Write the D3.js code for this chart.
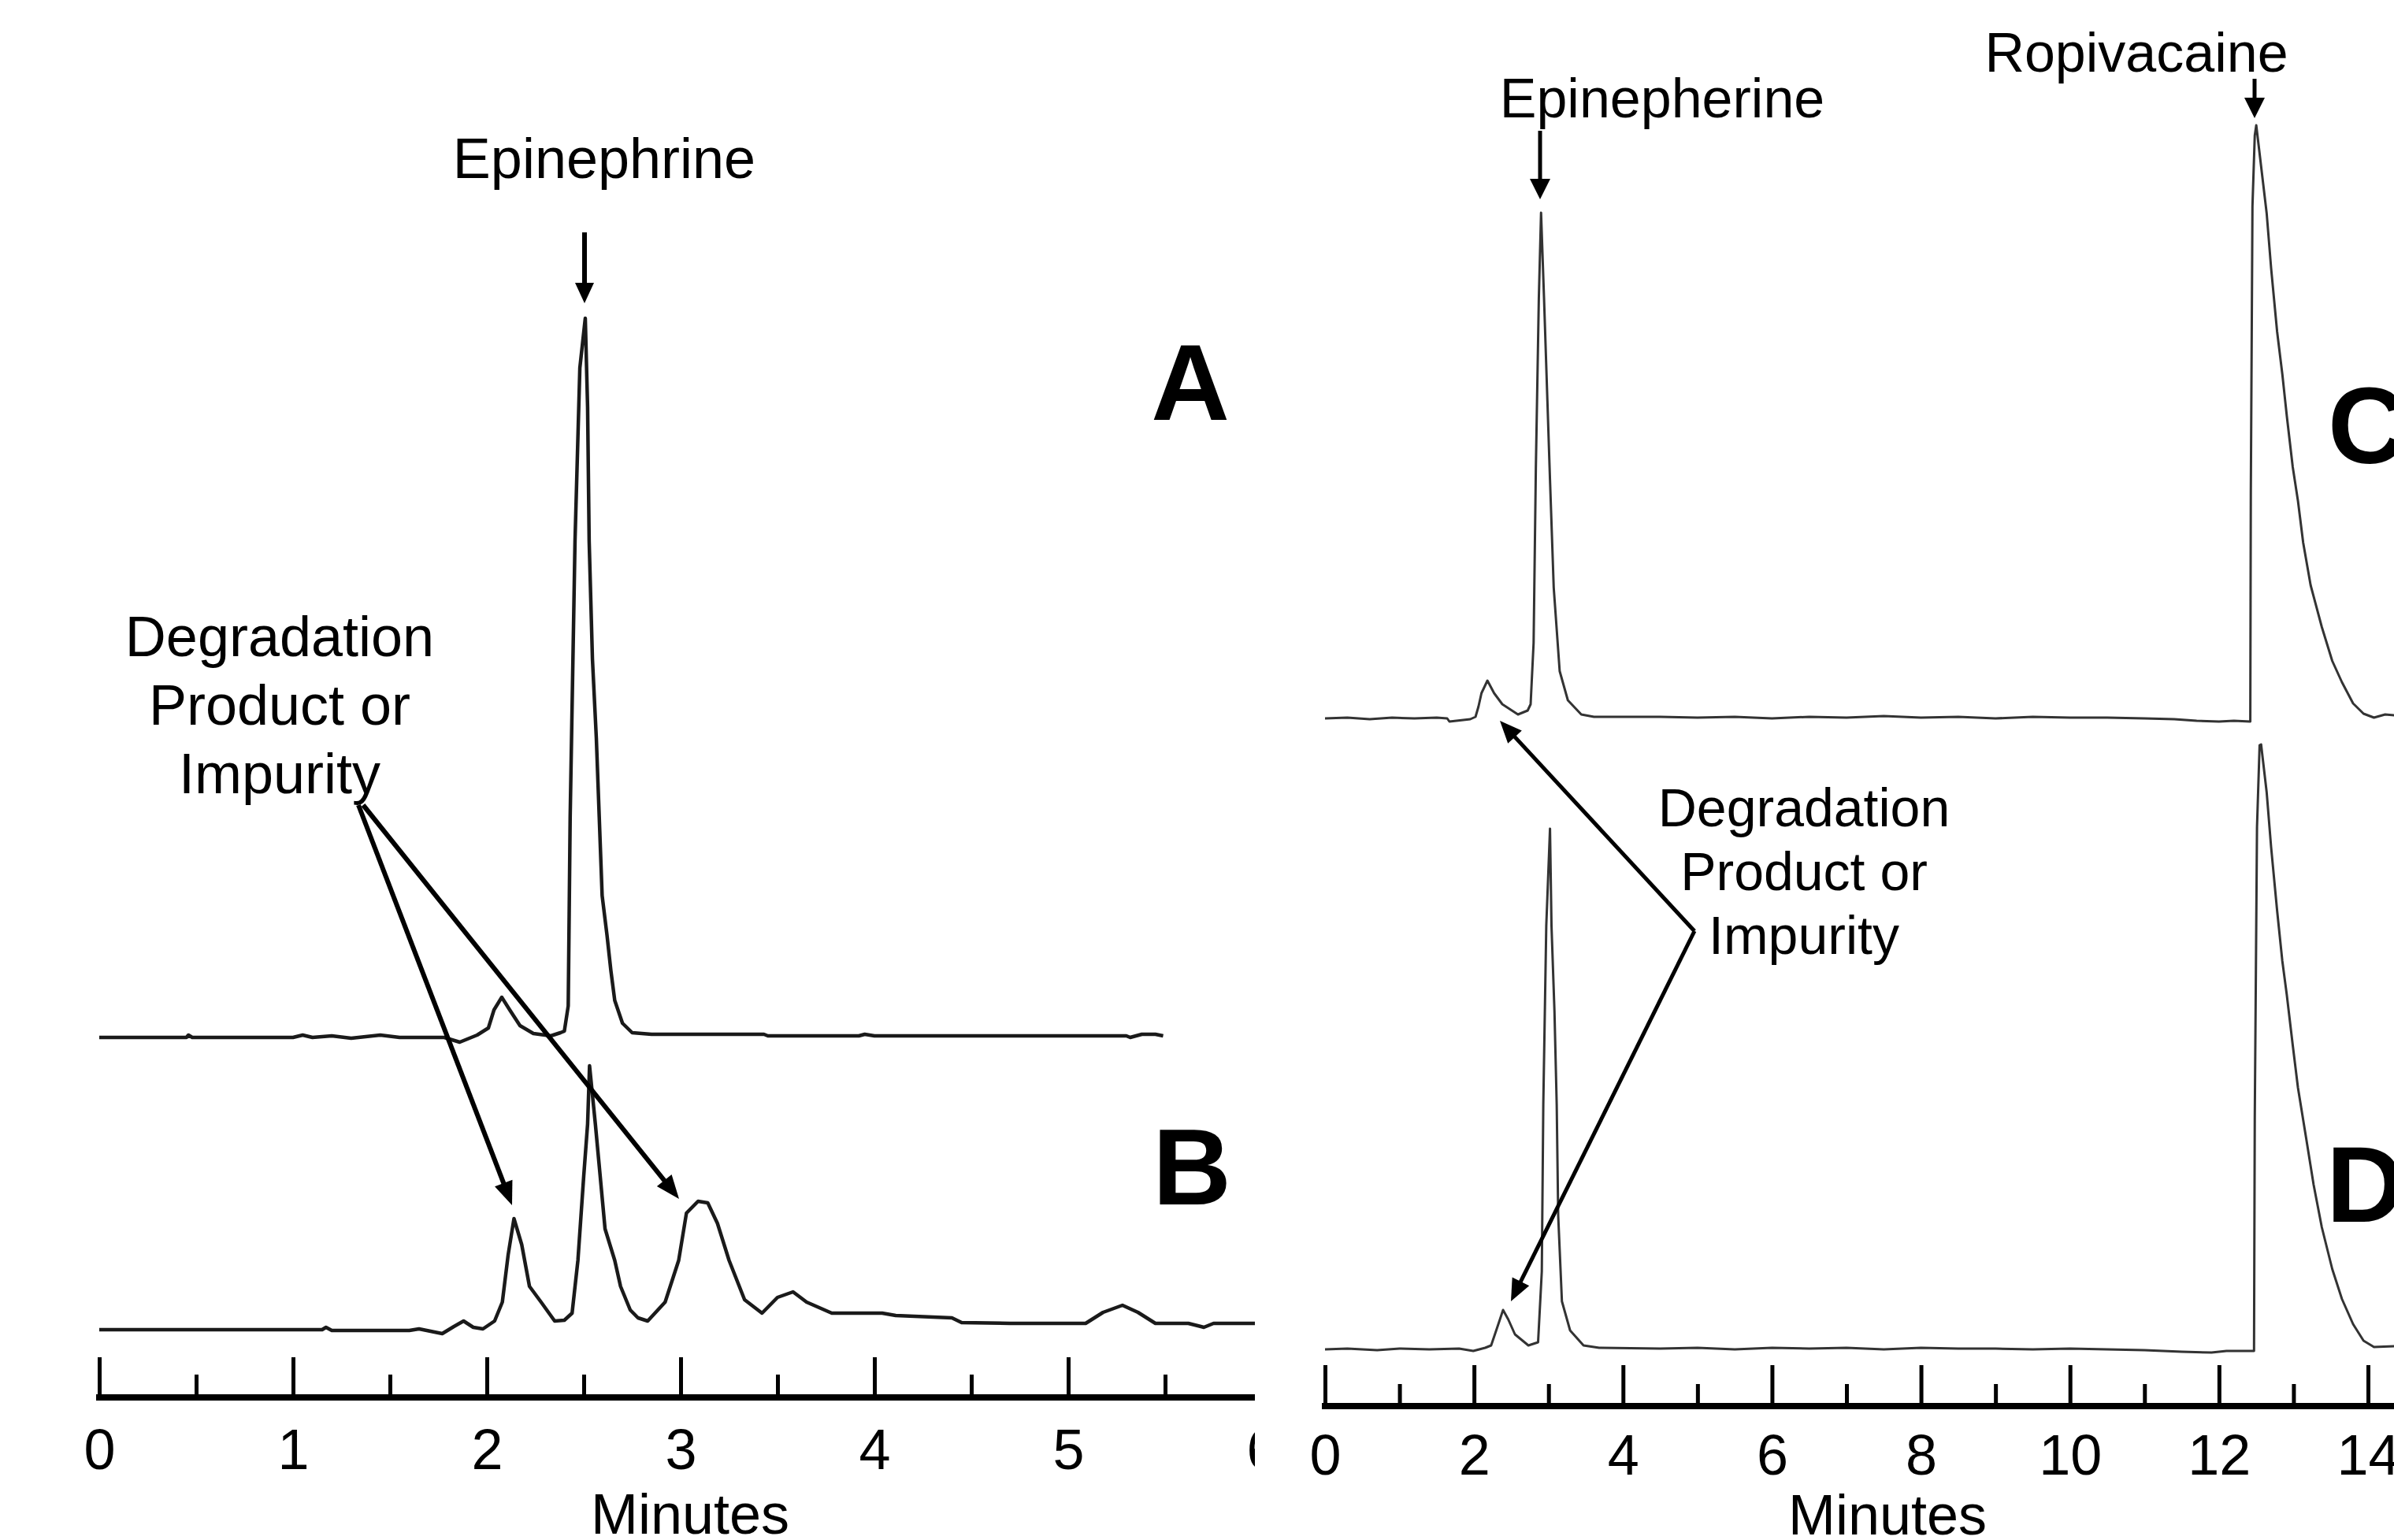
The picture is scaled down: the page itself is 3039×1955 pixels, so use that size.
<!DOCTYPE html>
<html>
<head>
<meta charset="utf-8">
<script src="https://cdn.jsdelivr.net/npm/d3@7"></script>
<style>
body { margin: 0; background: #fff; }
text { font-family: "Liberation Sans", Arial, Helvetica, sans-serif; fill: #000; }
</style>
</head>
<body>
<script>
var svgWidth = 3039;
var svgHeight = 1955;

// chromatograms: [retention time (min), detector response]
var traceA = [[0,0],[0.45,0],[0.46,0.3],[0.48,0],[1.0,0],[1.05,0.3],[1.1,0],[1.2,0.2],[1.3,-0.1],[1.45,0.3],[1.55,0],
  [1.78,0],[1.86,-0.6],[1.95,0.3],[2.008,1.2],[2.037,3.5],[2.077,5.1],[2.118,3.5],[2.171,1.5],[2.24,0.5],[2.33,0.2],
  [2.38,0.6],[2.40,0.8],[2.42,4],[2.43,28],[2.455,63],[2.48,85],[2.508,91.3],[2.52,80],[2.528,63],[2.545,48],
  [2.565,38],[2.58,28],[2.595,18],[2.62,13],[2.64,8.5],[2.66,4.7],[2.70,1.8],[2.75,0.6],[2.85,0.4],[3.43,0.4],
  [3.45,0.2],[3.92,0.2],[3.95,0.4],[4.0,0.2],[5.3,0.2],[5.32,0],[5.38,0.4],[5.45,0.4],[5.49,0.2]];

var traceB = [[0,0],[1.15,0],[1.17,0.3],[1.2,-0.1],[1.6,-0.1],[1.65,0.1],[1.77,-0.5],[1.83,0.4],[1.88,1.1],[1.93,0.3],
  [1.98,0.1],[2.04,1.1],[2.08,3.5],[2.11,9.5],[2.14,14.1],[2.18,10.8],[2.22,5.5],[2.28,3.5],[2.35,1.1],[2.40,1.2],
  [2.44,2.1],[2.47,8.8],[2.50,19.5],[2.52,26.1],[2.53,33.5],[2.56,26.1],[2.58,20.8],[2.61,12.8],[2.66,8.8],[2.69,5.5],
  [2.74,2.5],[2.78,1.5],[2.83,1.1],[2.92,3.5],[2.99,8.8],[3.03,14.8],[3.09,16.3],[3.14,16.1],[3.19,13.5],[3.25,8.8],
  [3.33,3.8],[3.42,2.1],[3.50,4.1],[3.58,4.8],[3.65,3.5],[3.78,2.1],[4.04,2.1],[4.11,1.8],[4.40,1.5],[4.45,0.9],
  [4.70,0.8],[5.09,0.8],[5.18,2.2],[5.28,3.1],[5.36,2.2],[5.45,0.8],[5.62,0.8],[5.70,0.3],[5.75,0.8],[6.0,0.8]];

var traceC = [[0,0],[0.3,0.1],[0.6,-0.1],[0.9,0.1],[1.2,0],[1.5,0.1],[1.64,0],[1.67,-0.4],[1.95,-0.1],[2.02,0.2],
  [2.06,1.5],[2.10,3.2],[2.18,4.8],[2.27,3.2],[2.38,1.8],[2.59,0.5],[2.72,1.0],[2.76,1.8],[2.80,9.6],[2.83,31.7],
  [2.87,53.3],[2.90,64.2],[2.94,53.3],[2.98,41.8],[3.02,30.3],[3.07,16.6],[3.15,6.0],[3.26,2.3],[3.44,0.5],[3.61,0.2],
  [4.5,0.2],[5.0,0.1],[5.5,0.2],[6.0,0],[6.5,0.2],[7.0,0.1],[7.5,0.3],[8.0,0.1],[8.5,0.2],[9.0,0],[9.5,0.2],[10.0,0.1],
  [10.5,0.1],[11.0,0],[11.4,-0.1],[11.7,-0.3],[12.0,-0.4],[12.2,-0.3],[12.42,-0.4],[12.427,28.7],[12.449,65],
  [12.48,74],[12.50,75.3],[12.56,70.5],[12.64,64.1],[12.70,57.1],[12.78,49.1],[12.85,43.7],[12.91,38.4],[12.99,31.9],
  [13.06,27.6],[13.13,22.3],[13.23,16.9],[13.38,11.6],[13.52,7.3],[13.65,4.6],[13.80,1.9],[13.94,0.6],[14.08,0.1],
  [14.23,0.5],[14.35,0.4]];

var traceD = [[0,0],[0.3,0.1],[0.7,-0.1],[1.0,0.1],[1.4,0],[1.8,0.1],[1.99,-0.2],[2.15,0.2],[2.23,0.5],[2.33,3.3],
  [2.39,5.0],[2.46,3.8],[2.55,1.9],[2.73,0.5],[2.86,0.9],[2.91,9.9],[2.93,31.1],[2.97,53.8],[3.02,66.1],[3.04,53.8],
  [3.08,42.9],[3.11,31.1],[3.13,17.0],[3.18,6.1],[3.29,2.4],[3.47,0.5],[3.68,0.2],[4.5,0.1],[5.0,0.2],[5.5,0],[6.0,0.2],
  [6.5,0.1],[7.0,0.2],[7.5,0],[8.0,0.2],[8.5,0.1],[9.0,0.1],[9.5,0],[10.0,0.1],[10.5,0],[11.0,-0.1],[11.5,-0.3],
  [11.9,-0.4],[12.1,-0.2],[12.47,-0.2],[12.48,29.3],[12.51,66.3],[12.545,76.7],[12.565,76.8],[12.64,70.7],[12.70,63.7],
  [12.78,55.7],[12.85,49.3],[12.91,45.0],[12.99,38.6],[13.06,33.2],[13.17,26.8],[13.27,20.9],[13.38,15.5],[13.52,10.2],
  [13.65,6.4],[13.80,3.2],[13.94,1.1],[14.08,0.3],[14.35,0.4]];

var leftTicks = [0, 1, 2, 3, 4, 5, 6];
var leftMinorTicks = [0.5, 1.5, 2.5, 3.5, 4.5, 5.5];
var rightTicks = [0, 2, 4, 6, 8, 10, 12, 14];
var rightMinorTicks = [1, 3, 5, 7, 9, 11, 13];

var svg = d3.select('body').append('svg')
  .attr('width', svgWidth)
  .attr('height', svgHeight);

svg.append('defs').append('clipPath').attr('id', 'leftClip')
  .append('rect').attr('x', 0).attr('y', 0).attr('width', 1593).attr('height', svgHeight);

// scales
var xLeft = d3.scaleLinear().domain([0, 6]).range([126, 1602]);
var xRight = d3.scaleLinear().domain([0, 14]).range([1682, 3006]);
var yResp = d3.scaleLinear().domain([0, 100]).range([0, -1000]);

var leftGroup = svg.append('g').attr('clip-path', 'url(#leftClip)');
var rightGroup = svg.append('g');

function drawTrace(group, x, data, baseY, width, color) {
  var line = d3.line()
    .x(function(d) { return x(d[0]); })
    .y(function(d) { return yResp(d[1]); });
  group.append('g')
    .attr('transform', 'translate(0,' + baseY + ')')
    .append('path')
    .datum(data)
    .attr('d', line)
    .attr('fill', 'none')
    .attr('stroke', color)
    .attr('stroke-width', width)
    .attr('stroke-linejoin', 'round');
}

drawTrace(leftGroup, xLeft, traceA, 1317, 4.5, '#1a1a1a');
drawTrace(leftGroup, xLeft, traceB, 1688, 4.5, '#1a1a1a');
drawTrace(rightGroup, xRight, traceC, 912, 3, '#333');
drawTrace(rightGroup, xRight, traceD, 1713, 3, '#333');

// axes, ticks pointing up
function drawAxis(group, x, major, minor, axisY, majorLen, minorLen, pad, lineEnd) {
  var g = group.append('g').attr('transform', 'translate(0,' + axisY + ')');
  g.append('g')
    .call(d3.axisBottom(x).tickValues(minor).tickSize(-minorLen).tickSizeOuter(0).tickFormat(''))
    .call(function(a) { a.select('.domain').remove(); });
  g.append('g')
    .call(d3.axisBottom(x).tickValues(major).tickSize(-majorLen).tickSizeOuter(0)
      .tickPadding(pad).tickFormat(d3.format('d')))
    .call(function(a) { a.select('.domain').remove(); })
    .attr('font-size', 72)
    .attr('font-family', '"Liberation Sans", Arial, sans-serif');
  g.selectAll('.tick line').attr('stroke', '#000').attr('stroke-width', 5);
  g.append('line')
    .attr('x1', x(0) - 4).attr('x2', lineEnd)
    .attr('y1', 0).attr('y2', 0)
    .attr('stroke', '#000').attr('stroke-width', 8);
}

drawAxis(leftGroup, xLeft, leftTicks, leftMinorTicks, 1774, 51, 29, 40, 1602);
drawAxis(rightGroup, xRight, rightTicks, rightMinorTicks, 1785, 52, 28, 36, svgWidth);

svg.append('text').attr('x', 876).attr('y', 1947).attr('text-anchor', 'middle')
  .attr('font-size', 72).text('Minutes');
svg.append('text').attr('x', 2396).attr('y', 1948).attr('text-anchor', 'middle')
  .attr('font-size', 72).text('Minutes');

// arrows
function arrow(x1, y1, x2, y2, w, headLen, headW) {
  var dx = x2 - x1, dy = y2 - y1;
  var len = Math.sqrt(dx * dx + dy * dy);
  var ux = dx / len, uy = dy / len;
  var bx = x2 - ux * headLen, by = y2 - uy * headLen;
  svg.append('line')
    .attr('x1', x1).attr('y1', y1)
    .attr('x2', x2 - ux * headLen * 0.6).attr('y2', y2 - uy * headLen * 0.6)
    .attr('stroke', '#000').attr('stroke-width', w);
  svg.append('path')
    .attr('d', 'M' + x2 + ',' + y2 +
      'L' + (bx - uy * headW / 2) + ',' + (by + ux * headW / 2) +
      'L' + (bx + uy * headW / 2) + ',' + (by - ux * headW / 2) + 'Z')
    .attr('fill', '#000');
}

arrow(742, 295, 742, 385, 6, 26, 24);
arrow(455, 1022, 650, 1530, 6, 30, 24);
arrow(461, 1022, 862, 1522, 6, 30, 24);
arrow(1955, 166, 1955, 253, 5, 26, 26);
arrow(2862, 100, 2862, 150, 5, 26, 26);
arrow(2151, 1182, 1904, 915, 5, 28, 24);
arrow(2151, 1182, 1918, 1652, 5, 28, 24);

// labels
function label(x, y, txt, size, anchor, weight) {
  svg.append('text').attr('x', x).attr('y', y)
    .attr('text-anchor', anchor || 'middle')
    .attr('font-size', size)
    .attr('font-weight', weight || 'normal')
    .text(txt);
}

label(767, 226, 'Epinephrine', 72);
label(355, 833, 'Degradation', 72);
label(355, 920, 'Product or', 72);
label(355, 1007, 'Impurity', 72);
label(2110, 149, 'Epinepherine', 70);
label(2712, 91, 'Ropivacaine', 70);
label(2290, 1049, 'Degradation', 68);
label(2290, 1130, 'Product or', 68);
label(2290, 1211, 'Impurity', 68);

label(1511, 533, 'A', 138, 'middle', 'bold');
label(1513, 1529, 'B', 138, 'middle', 'bold');
label(2955, 588, 'C', 138, 'start', 'bold');
label(2953, 1551, 'D', 138, 'start', 'bold');
</script>
</body>
</html>
